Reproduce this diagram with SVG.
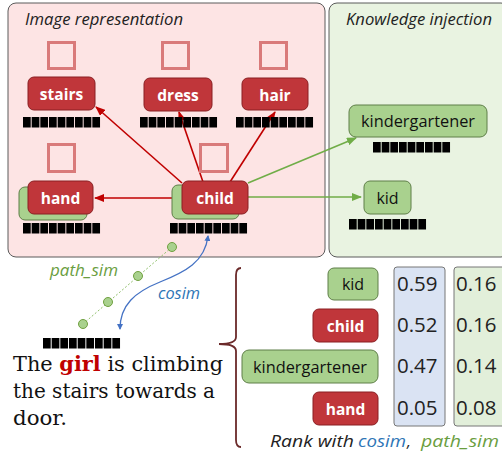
<svg xmlns="http://www.w3.org/2000/svg" width="502" height="452" viewBox="0 0 502 452">
<style>
.panel{stroke:#5a5a5a;stroke-width:1}
.sq{fill:none;stroke:#d97a7a;stroke-width:3}
.red{fill:#c0363a;stroke:#8a1f22;stroke-width:1}
.grn{fill:#a9d18e;stroke:#5f7f48;stroke-width:1}
.lw{font-family:"Open Sans","Noto Sans",sans-serif;font-weight:bold;font-size:15.5px;fill:#fff;text-anchor:middle}
.lg{font-family:"Open Sans","Noto Sans",sans-serif;font-size:16px;fill:#111;text-anchor:middle}
.ttl{font-family:"Open Sans","Noto Sans",sans-serif;font-style:italic;font-size:15.5px;fill:#222}
.num{font-family:"Open Sans","Noto Sans",sans-serif;font-size:20.5px;fill:#222}
.ra{stroke:#c00000;stroke-width:1.6;fill:none}
.ga{stroke:#70ad47;stroke-width:1.6;fill:none}
.dot{fill:#a9d18e;stroke:#70a040;stroke-width:1}
.sent{font-family:"DejaVu Serif","Liberation Serif",serif;font-size:20px;fill:#111}
.blue{fill:#2e75b6}
.green{fill:#6a9e3f}
</style>
<defs>
<marker id="ar" markerUnits="userSpaceOnUse" markerWidth="10" markerHeight="8" refX="9" refY="4" orient="auto"><path d="M0,0 L10,4 L0,8 Z" fill="#c00000"/></marker>
<marker id="ag" markerUnits="userSpaceOnUse" markerWidth="10" markerHeight="8" refX="9" refY="4" orient="auto"><path d="M0,0 L10,4 L0,8 Z" fill="#70ad47"/></marker>
<marker id="ab" markerUnits="userSpaceOnUse" markerWidth="6" markerHeight="6" refX="5" refY="3" orient="auto"><path d="M0,0 L6,3 L0,6 Z" fill="#4472c4"/></marker>
<marker id="abs" markerUnits="userSpaceOnUse" markerWidth="6" markerHeight="6" refX="1" refY="3" orient="auto"><path d="M6,0 L0,3 L6,6 Z" fill="#4472c4"/></marker>
<g id="bar">
<rect x="0" y="0" width="7.7" height="10.5" fill="#000"/>
<rect x="8.67" y="0" width="7.7" height="10.5" fill="#000"/>
<rect x="17.33" y="0" width="7.7" height="10.5" fill="#000"/>
<rect x="26" y="0" width="7.7" height="10.5" fill="#000"/>
<rect x="34.67" y="0" width="7.7" height="10.5" fill="#000"/>
<rect x="43.33" y="0" width="7.7" height="10.5" fill="#000"/>
<rect x="52" y="0" width="7.7" height="10.5" fill="#000"/>
<rect x="60.67" y="0" width="7.7" height="10.5" fill="#000"/>
<rect x="69.33" y="0" width="7.7" height="10.5" fill="#000"/>
</g>
</defs>
<rect width="502" height="452" fill="#fff"/>

<g id="panel-image">
<rect class="panel" x="8" y="3" width="317" height="254" rx="8" fill="#fde4e4"/>
<text class="ttl" x="25" y="25" textLength="158" lengthAdjust="spacingAndGlyphs">Image representation</text>
</g>
<g id="panel-knowledge">
<rect class="panel" x="329" y="3" width="180" height="254" rx="8" fill="#e9f3e1"/>
<text class="ttl" x="346" y="25" textLength="146" lengthAdjust="spacingAndGlyphs">Knowledge injection</text>
</g>

<g id="connectors">
<line class="ra" x1="182" y1="183" x2="96" y2="107" marker-end="url(#ar)"/>
<line class="ra" x1="203" y1="182" x2="179" y2="112" marker-end="url(#ar)"/>
<line class="ra" x1="230" y1="182" x2="275" y2="112" marker-end="url(#ar)"/>
<line class="ra" x1="182" y1="198" x2="95" y2="198" marker-end="url(#ar)"/>
<line class="ga" x1="248" y1="183" x2="356" y2="138" marker-end="url(#ag)"/>
<line class="ga" x1="248" y1="197" x2="361" y2="197" marker-end="url(#ag)"/>
<line x1="172" y1="247" x2="83" y2="324" stroke="#8fbf6a" stroke-width="1" stroke-dasharray="2,2"/>
<path d="M208,236 C205,262 185,272 160,282 C135,292 120,305 120,329" fill="none" stroke="#4472c4" stroke-width="1.3" marker-start="url(#abs)" marker-end="url(#ab)"/>
</g>

<g id="node-stairs">
<rect class="sq" x="48.5" y="42.5" width="26" height="26"/>
<rect class="red" x="28" y="77" width="67" height="33" rx="6"/>
<text class="lw" x="61.5" y="99.5">stairs</text>
<use href="#bar" x="23" y="117"/>
</g>
<g id="node-dress">
<rect class="sq" x="162.5" y="42.5" width="26" height="26"/>
<rect class="red" x="144" y="78" width="68" height="33" rx="6"/>
<text class="lw" x="178" y="100.5">dress</text>
<use href="#bar" x="140" y="117"/>
</g>
<g id="node-hair">
<rect class="sq" x="260.5" y="42.5" width="26" height="26"/>
<rect class="red" x="242" y="78" width="66" height="32" rx="6"/>
<text class="lw" x="275" y="100.5">hair</text>
<use href="#bar" x="236" y="117"/>
</g>
<g id="node-hand">
<rect class="sq" x="48.5" y="144.5" width="26" height="27"/>
<rect class="grn" x="19" y="187" width="68" height="33" rx="6"/>
<rect class="red" x="28" y="181" width="65" height="33" rx="6"/>
<text class="lw" x="60.5" y="203.5">hand</text>
<use href="#bar" x="23" y="223"/>
</g>
<g id="node-child">
<rect class="sq" x="200.5" y="144.5" width="27" height="27"/>
<rect class="grn" x="172" y="185" width="67" height="34" rx="6"/>
<rect class="red" x="182" y="181" width="66" height="33" rx="6"/>
<text class="lw" x="215" y="203.5">child</text>
<use href="#bar" x="170" y="223"/>
</g>
<g id="node-kindergartener">
<rect class="grn" x="349" y="105" width="138" height="32" rx="7"/>
<text class="lg" x="418" y="126.5" textLength="114" lengthAdjust="spacingAndGlyphs">kindergartener</text>
<use href="#bar" x="373" y="142"/>
</g>
<g id="node-kid">
<rect class="grn" x="364" y="181" width="47" height="33" rx="6"/>
<text class="lg" x="387.5" y="203.5">kid</text>
<use href="#bar" x="349" y="219"/>
</g>

<g id="path-sim">
<circle class="dot" cx="172" cy="247" r="4.5"/>
<circle class="dot" cx="138" cy="276" r="4.5"/>
<circle class="dot" cx="108" cy="302" r="4.5"/>
<circle class="dot" cx="83" cy="324" r="4.5"/>
<text class="ttl green" x="50" y="276" textLength="68" lengthAdjust="spacingAndGlyphs">path_sim</text>
<text class="ttl blue" x="158" y="299" textLength="42" lengthAdjust="spacingAndGlyphs">cosim</text>
</g>

<g id="sentence">
<use href="#bar" x="43" y="338"/>
<text class="sent" x="13" y="371" textLength="210" lengthAdjust="spacingAndGlyphs">The <tspan fill="#c00000" font-weight="bold">girl</tspan> is climbing</text>
<text class="sent" x="13" y="398" textLength="202" lengthAdjust="spacingAndGlyphs">the stairs towards a</text>
<text class="sent" x="13" y="425" textLength="54" lengthAdjust="spacingAndGlyphs">door.</text>
</g>

<g id="brace">
<path d="M241,268 Q236,268 236,275 L236,337 Q236,344 219,344 Q236,344 236,351 L236,440 Q236,447 241,447" fill="none" stroke="#6b2a2a" stroke-width="1.8"/>
</g>

<g id="ranking">
<rect class="grn" x="328" y="268" width="50" height="32" rx="6"/>
<text class="lg" x="353" y="290">kid</text>
<rect class="red" x="313" y="309" width="65" height="33" rx="6"/>
<text class="lw" x="345.5" y="331.5">child</text>
<rect class="grn" x="242" y="350" width="136" height="33" rx="7"/>
<text class="lg" x="310" y="372.5" textLength="114" lengthAdjust="spacingAndGlyphs">kindergartener</text>
<rect class="red" x="313" y="392" width="65" height="33" rx="6"/>
<text class="lw" x="345.5" y="414.5">hand</text>
<rect x="394" y="267" width="51" height="159" rx="3" fill="#dae3f3" stroke="#777" stroke-width="1"/>
<rect x="454" y="267" width="60" height="159" rx="3" fill="#e2efda" stroke="#777" stroke-width="1"/>
<text class="num" x="397" y="291">0.59</text>
<text class="num" x="397" y="332">0.52</text>
<text class="num" x="397" y="373">0.47</text>
<text class="num" x="397" y="415">0.05</text>
<text class="num" x="456" y="291">0.16</text>
<text class="num" x="456" y="332">0.16</text>
<text class="num" x="456" y="373">0.14</text>
<text class="num" x="456" y="415">0.08</text>
<text class="ttl" x="270" y="447" textLength="84" lengthAdjust="spacingAndGlyphs">Rank with</text>
<text class="ttl blue" x="358" y="447" textLength="48" lengthAdjust="spacingAndGlyphs">cosim</text>
<text class="ttl" x="407" y="447">,</text>
<text class="ttl green" x="421" y="447" textLength="78" lengthAdjust="spacingAndGlyphs">path_sim</text>
</g>
</svg>
